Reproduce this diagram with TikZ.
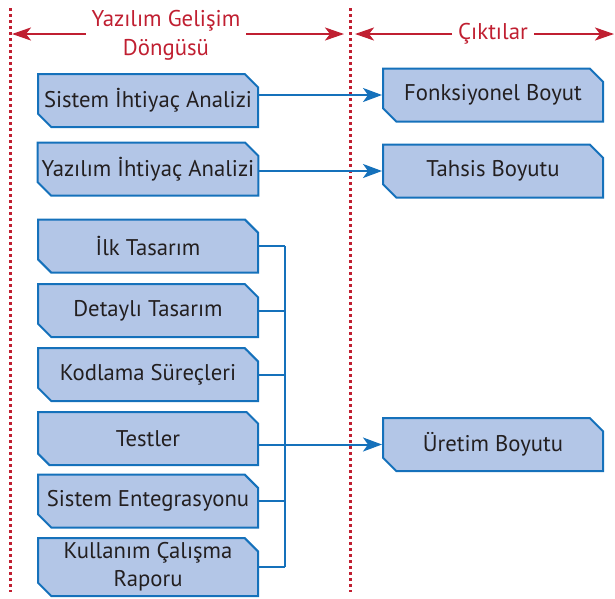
\documentclass[tikz,border=0pt]{standalone}
\usepackage{fontspec}
\setmainfont{PT Sans}
\usetikzlibrary{shapes.misc,arrows.meta}

\definecolor{boxfill}{RGB}{179,198,231}
\definecolor{boxline}{RGB}{21,113,187}
\definecolor{phasered}{RGB}{192,31,49}
\definecolor{inktext}{RGB}{35,31,32}

\begin{document}
\begin{tikzpicture}[x=1pt,y=-1pt,
   stage/.style={chamfered rectangle, chamfered rectangle corners={north east,south west},
      chamfered rectangle xsep=10pt, draw=boxline, fill=boxfill, line width=2pt,
      minimum width=220pt, minimum height=53pt, inner xsep=-6pt, inner ysep=0pt, text=inktext,
      font=\fontsize{22.7}{28}\selectfont, align=center},
   link/.style={draw=boxline, line width=2pt},
   feed/.style={link, -{Stealth[length=19pt,width=14pt,inset=5pt]}},
   span/.style={draw=phasered, line width=2.5pt, -{Stealth[length=19pt,width=13pt,inset=5pt]}},
   guide/.style={draw=phasered, line width=3pt, dash pattern=on 3pt off 3pt},
   head/.style={text=phasered, font=\fontsize{22.8}{29}\selectfont, align=center, inner sep=6pt}]

   \useasboundingbox (0,0) rectangle (615,598);

   % dotted column borders
   \coordinate (g1top) at (10,8);
   \coordinate (g1bot) at (10,592);
   \coordinate (g2top) at (350,8);
   \coordinate (g2bot) at (350,592);
   \draw[guide] (g1top) -- (g1bot);
   \draw[guide] (g2top) -- (g2bot);

   % column headings
   \node[head] (cycle) at (166,35) {Yazılım Gelişim\\Döngüsü};
   \node[head] (outputs) at (493,34) {Çıktılar};
   \coordinate (a1) at (12,34);
   \coordinate (a2) at (344,34);
   \coordinate (a3) at (355,34);
   \coordinate (a4) at (614,34);
   \draw[span] (cycle.west |- a1) -- (a1);
   \draw[span] (cycle.east |- a2) -- (a2);
   \draw[span] (outputs.west) -- (a3);
   \draw[span] (outputs.east) -- (a4);

   % phases
   \node[stage] (sia) at (148,100.5) {Sistem İhtiyaç Analizi};
   \node[stage] (yia) at (148,169) {Yazılım İhtiyaç Analizi};
   \node[stage] (ilk) at (148,246) {İlk Tasarım};
   \node[stage] (det) at (148,310.5) {Detaylı Tasarım};
   \node[stage] (kod) at (148,374.5) {Kodlama Süreçleri};
   \node[stage] (tst) at (148,438.5) {Testler};
   \node[stage] (ent) at (148,501) {Sistem Entegrasyonu};
   \node[stage, minimum height=58pt] (kul) at (148,567) {Kullanım Çalışma\\Raporu};

   % outputs
   \node[stage] (fonk) at (493,95) {Fonksiyonel Boyut};
   \node[stage] (tah) at (493,171) {Tahsis Boyutu};
   \node[stage] (ure) at (493,444.5) {Üretim Boyutu};

   \draw[feed] (fonk.west -| sia.east) -- (fonk.west);
   \draw[feed] (tah.west -| yia.east) -- (tah.west);

   % design phases joined on one bus
   \coordinate (bus) at (285,0);
   \draw[link] (ilk.east) -- (ilk.east -| bus);
   \draw[link] (det.east) -- (det.east -| bus);
   \draw[link] (kod.east) -- (kod.east -| bus);
   \draw[link] (ure.west -| tst.east) -- (ure.west -| bus);
   \draw[link] (ent.east) -- (ent.east -| bus);
   \draw[link] (kul.east) -- (kul.east -| bus);
   \draw[link] (ilk.east -| bus) -- (kul.east -| bus);
   \draw[feed] (ure.west -| bus) -- (ure.west);

\end{tikzpicture}
\end{document}
